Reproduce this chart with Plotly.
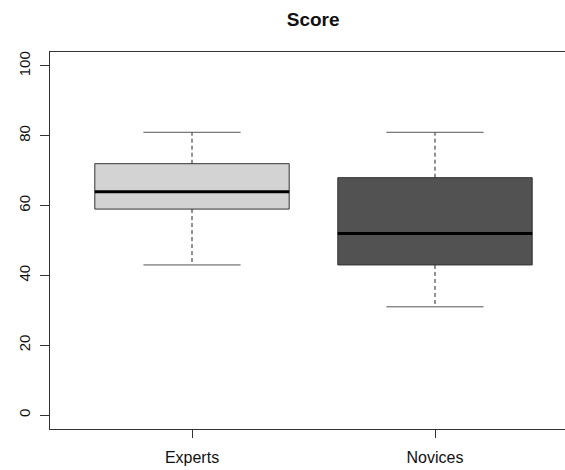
import plotly.graph_objects as go

# ---- data ----
groups = ["Experts", "Novices"]
positions = [1, 2]
mins = [43, 31]
q1s = [59, 43]
medians = [64, 52]
q3s = [72, 68]
maxs = [81, 81]
fills = ["#d3d3d3", "#525252"]
y_ticks = [0, 20, 40, 60, 80, 100]

box_w = 0.8
cap_w = 0.4

fig = go.Figure()

for i, g in enumerate(groups):
    p = positions[i]
    fig.add_trace(go.Box(
        x=[p], q1=[q1s[i]], median=[medians[i]], q3=[q3s[i]],
        lowerfence=[q1s[i]], upperfence=[q3s[i]],
        width=box_w, fillcolor=fills[i],
        line=dict(color="#333333", width=1),
        whiskerwidth=0, showlegend=False, hoverinfo="skip", name=g,
    ))
    # whiskers (dashed)
    fig.add_trace(go.Scatter(
        x=[p, p, None, p, p], y=[q3s[i], maxs[i], None, q1s[i], mins[i]],
        mode="lines", line=dict(color="#222222", width=1, dash="4px,3px"),
        showlegend=False, hoverinfo="skip",
    ))
    # caps
    fig.add_trace(go.Scatter(
        x=[p - cap_w / 2, p + cap_w / 2, None, p - cap_w / 2, p + cap_w / 2],
        y=[maxs[i], maxs[i], None, mins[i], mins[i]],
        mode="lines", line=dict(color="#555555", width=1),
        showlegend=False, hoverinfo="skip",
    ))
    # median (thick)
    fig.add_trace(go.Scatter(
        x=[p - box_w / 2, p + box_w / 2], y=[medians[i], medians[i]],
        mode="lines", line=dict(color="#000000", width=3),
        showlegend=False, hoverinfo="skip",
    ))

font_family = "Liberation Sans, Arial, Helvetica, sans-serif"

fig.update_layout(
    width=565, height=470,
    margin=dict(l=50, r=0, t=52, b=41),
    paper_bgcolor="white", plot_bgcolor="white",
    font=dict(family=font_family, size=16, color="#111111"),
    title=dict(text="<b>Score</b>", x=0.511, xref="paper", xanchor="center",
               y=1 - 19 / 470, yref="container", yanchor="middle",
               font=dict(size=19, family=font_family, color="#111111")),
    xaxis=dict(
        range=[0.4156, 2.535], tickvals=positions, ticktext=groups,
        showgrid=False, zeroline=False,
        showline=True, linecolor="#333333", linewidth=1, mirror=True,
        ticks="outside", ticklen=8, tickcolor="#333333", ticklabelstandoff=6,
        tickfont=dict(size=16),
    ),
    yaxis=dict(
        range=[-4, 104], tickvals=y_ticks,
        showgrid=False, zeroline=False,
        showline=True, linecolor="#333333", linewidth=1, mirror=False,
        ticks="outside", ticklen=9, tickcolor="#333333", tickangle=-90,
        ticklabelstandoff=4, tickfont=dict(size=15),
    ),
)

fig.write_html(
    "out.html",
    config={"displayModeBar": False, "staticPlot": True},
    post_script="document.body.style.margin='0';document.body.style.overflow='hidden';",
)
